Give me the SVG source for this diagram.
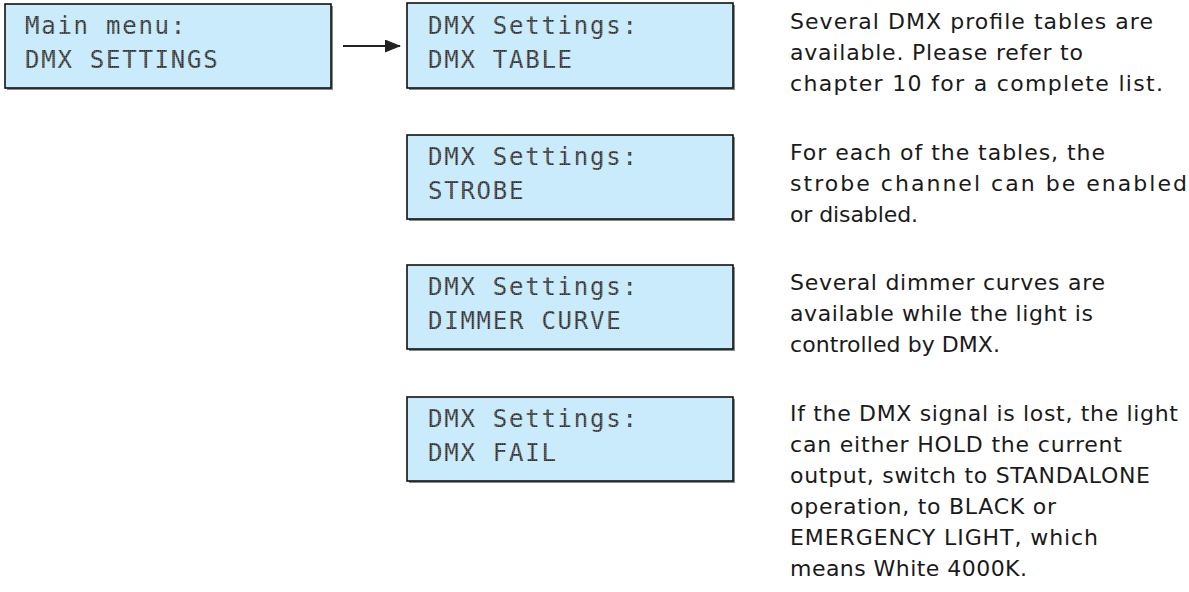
<svg xmlns="http://www.w3.org/2000/svg" width="1189" height="592" viewBox="0 0 1189 592">
<style>
.shadow{fill:#8a8a8a}
.lcd{fill:#c9ebfb;stroke:#111;stroke-width:1.6}
.lt{font-family:"DejaVu Sans Mono","Liberation Mono",monospace;font-size:24px;fill:url(#dots);letter-spacing:1.75px}
.desc{font-family:"DejaVu Sans","Liberation Sans",sans-serif;font-size:22px;fill:#1a1a1a}
</style>
<defs>
<pattern id="dots" width="2" height="2" patternUnits="userSpaceOnUse">
<rect width="2" height="2" fill="#6a6a6a"/>
<rect width="1.4" height="1.4" fill="#2a2a2a"/>
</pattern>
<marker id="ah" markerWidth="16" markerHeight="13" refX="15" refY="6.5" orient="auto" markerUnits="userSpaceOnUse">
<path d="M0,0 L16,6.5 L0,13 Z" fill="#222"/>
</marker>
</defs>
<g id="main-menu">
<rect class="shadow" x="7" y="6" width="326" height="84"/>
<rect class="lcd" x="5" y="4" width="326" height="84"/>
<text class="lt" x="25" y="34">Main menu:</text>
<text class="lt" x="25" y="68">DMX SETTINGS</text>
</g>
<g id="dmx-table">
<rect class="shadow" x="409" y="5" width="326" height="85"/>
<rect class="lcd" x="407" y="3" width="326" height="85"/>
<text class="lt" x="428" y="34">DMX Settings:</text>
<text class="lt" x="428" y="68">DMX TABLE</text>
</g>
<g id="strobe">
<rect class="shadow" x="409" y="137" width="326" height="84"/>
<rect class="lcd" x="407" y="135" width="326" height="84"/>
<text class="lt" x="428" y="165">DMX Settings:</text>
<text class="lt" x="428" y="199">STROBE</text>
</g>
<g id="dimmer-curve">
<rect class="shadow" x="409" y="267" width="326" height="84"/>
<rect class="lcd" x="407" y="265" width="326" height="84"/>
<text class="lt" x="428" y="295">DMX Settings:</text>
<text class="lt" x="428" y="329">DIMMER CURVE</text>
</g>
<g id="dmx-fail">
<rect class="shadow" x="409" y="399" width="326" height="84"/>
<rect class="lcd" x="407" y="397" width="326" height="84"/>
<text class="lt" x="428" y="427">DMX Settings:</text>
<text class="lt" x="428" y="461">DMX FAIL</text>
</g>
<g id="connectors">
<line x1="343" y1="46" x2="400" y2="46" stroke="#222" stroke-width="2" marker-end="url(#ah)"/>
</g>
<g id="desc-table">
<text class="desc" x="790" y="29" textLength="363" lengthAdjust="spacing">Several DMX profile tables are</text>
<text class="desc" x="790" y="60" textLength="293" lengthAdjust="spacing">available. Please refer to</text>
<text class="desc" x="790" y="91" textLength="373" lengthAdjust="spacing">chapter 10 for a complete list.</text>
</g>
<g id="desc-strobe">
<text class="desc" x="790" y="160" textLength="315" lengthAdjust="spacing">For each of the tables, the</text>
<text class="desc" x="790" y="191" textLength="397" lengthAdjust="spacing">strobe channel can be enabled</text>
<text class="desc" x="790" y="222" textLength="128" lengthAdjust="spacing">or disabled.</text>
</g>
<g id="desc-dimmer">
<text class="desc" x="790" y="290" textLength="315" lengthAdjust="spacing">Several dimmer curves are</text>
<text class="desc" x="790" y="321" textLength="303" lengthAdjust="spacing">available while the light is</text>
<text class="desc" x="790" y="352" textLength="210" lengthAdjust="spacing">controlled by DMX.</text>
</g>
<g id="desc-fail">
<text class="desc" x="790" y="421" textLength="388" lengthAdjust="spacing">If the DMX signal is lost, the light</text>
<text class="desc" x="790" y="452" textLength="332" lengthAdjust="spacing">can either HOLD the current</text>
<text class="desc" x="790" y="483" textLength="360" lengthAdjust="spacing">output, switch to STANDALONE</text>
<text class="desc" x="790" y="514" textLength="266" lengthAdjust="spacing">operation, to BLACK or</text>
<text class="desc" x="790" y="545" textLength="308" lengthAdjust="spacing">EMERGENCY LIGHT, which</text>
<text class="desc" x="790" y="576" textLength="237" lengthAdjust="spacing">means White 4000K.</text>
</g>
</svg>
